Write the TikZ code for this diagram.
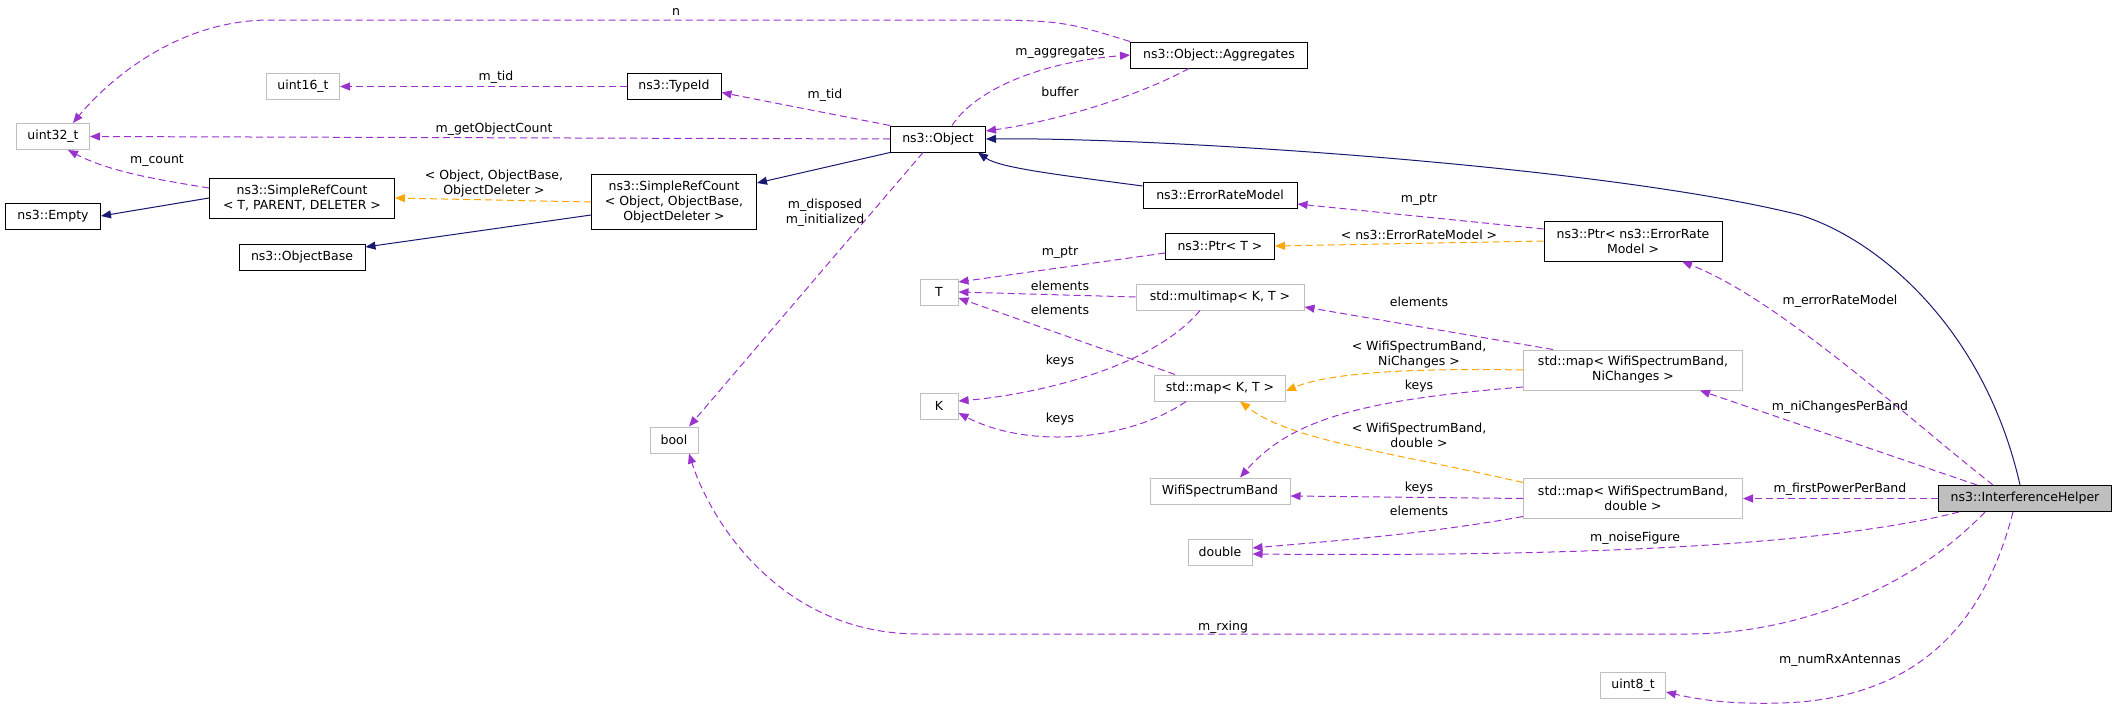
\documentclass[tikz,border=0pt]{standalone}
\usepackage{fontspec}
\setmainfont{DejaVu Sans}
\usetikzlibrary{arrows.meta}
\definecolor{dep}{HTML}{9A32CD}
\definecolor{tmpl}{HTML}{FFA500}
\definecolor{inh}{HTML}{191970}
\definecolor{gbox}{HTML}{BFBFBF}
\begin{document}
\begin{tikzpicture}[x=1pt,y=-1pt,
  every node/.style={font=\fontsize{12.5}{15}\selectfont, inner sep=0pt, align=center},
  cls/.style={draw=black, line width=1pt, fill=white, minimum height=26},
  ext/.style={draw=gbox, line width=1pt, fill=white, minimum height=26},
  tip/.style={-{Triangle[length=10pt,width=8pt]}},
  dep/.style={tip, draw=dep, line width=1pt, dash pattern=on 7pt off 4pt},
  tpl/.style={tip, draw=tmpl, line width=1pt, dash pattern=on 7pt off 4pt},
  inhe/.style={tip, draw=inh, line width=1pt},
  lbl/.style={fill=none}]
\useasboundingbox (0,0) rectangle (2115,704);
% nodes
\node[ext, minimum width=73] (u32) at (53,136.5) {uint32\_t};
\node[ext, minimum width=73] (u16) at (303,86.5) {uint16\_t};
\node[cls, minimum width=94] (tid) at (674,86.5) {ns3::TypeId};
\node[cls, minimum width=177] (agg) at (1219,55) {ns3::Object::Aggregates};
\node[cls, minimum width=95] (obj) at (938,139) {ns3::Object};
\node[cls, minimum width=95] (empty) at (53,216) {ns3::Empty};
\node[cls, minimum width=185, minimum height=40] (srcT) at (302,198) {ns3::SimpleRefCount\\{}< T, PARENT, DELETER >};
\node[cls, minimum width=165, minimum height=55] (srcO) at (674,202) {ns3::SimpleRefCount\\{}< Object, ObjectBase,\\ObjectDeleter >};
\node[cls, minimum width=126] (ob) at (302,257) {ns3::ObjectBase};
\node[cls, minimum width=154] (ern) at (1220,195) {ns3::ErrorRateModel};
\node[cls, minimum width=178, minimum height=40] (pe) at (1633,241) {ns3::Ptr< ns3::ErrorRate\\Model >};
\node[cls, minimum width=109] (ptrT) at (1220,246) {ns3::Ptr< T >};
\node[ext, minimum width=38] (T) at (939,292) {T};
\node[ext, minimum width=168] (mm) at (1220,297) {std::multimap< K, T >};
\node[ext, minimum width=38] (K) at (939,406) {K};
\node[ext, minimum width=131] (mkt) at (1220,388) {std::map< K, T >};
\node[ext, minimum width=48] (bool) at (674,440) {bool};
\node[ext, minimum width=219, minimum height=40] (mNi) at (1633,370) {std::map< WifiSpectrumBand,\\NiChanges >};
\node[ext, minimum width=140] (wsb) at (1220,491) {WifiSpectrumBand};
\node[ext, minimum width=219, minimum height=40] (mdb) at (1633,498.5) {std::map< WifiSpectrumBand,\\double >};
\node[ext, minimum width=64] (dbl) at (1220,552) {double};
\node[draw=black, line width=1pt, fill=gbox, minimum height=26, minimum width=173] (ih) at (2025,498.5) {ns3::InterferenceHelper};
\node[ext, minimum width=65] (u8) at (1633,685) {uint8\_t};
% inheritance
\draw[inhe] (srcT.west) -- (empty.east);
\draw[inhe] ([yshift=-13]srcO.west) -- ([yshift=10]ob.east);
\draw[inhe] (obj.south west) -- ([yshift=-9]srcO.north east);
\draw[inhe] ([yshift=9]ern.west) .. controls (1060,175) and (1000,168) .. ([xshift=40]obj.south);
\draw[inhe] ([xshift=-5]ih.north) .. controls (1985,330) and (1880,240) .. (1800,215) .. controls (1600,165) and (1150,137) .. (obj.east);
% templates
\draw[tpl] (srcO.west) -- (srcT.east);
\draw[tpl] (pe.west) -- (ptrT.east);
\draw[tpl] (mNi.west) .. controls (1420,368) and (1330,372) .. ([yshift=-3]mkt.east);
\draw[tpl] ([yshift=16]mdb.west) .. controls (1380,450) and (1290,440) .. ([xshift=20]mkt.south);
% dependencies
\draw[dep] (agg.north west) .. controls (1060,20) .. (950,20) -- (270,20) .. controls (170,20) and (100,90) .. ([xshift=20]u32.north);
\draw[dep] (tid.west) -- (u16.east);
\draw[dep] (obj.north west) -- ([yshift=-6]tid.east);
\draw[dep] (obj.west) -- (u32.east);
\draw[dep] ([xshift=14]obj.north) .. controls (975,90) and (1040,62) .. (agg.west);
\draw[dep] ([xshift=-30]agg.south) .. controls (1130,100) and (1050,122) .. ([yshift=8]obj.east);
\draw[dep] ([yshift=10]srcT.west) .. controls (160,180) and (110,172) .. ([xshift=15]u32.south);
\draw[dep] ([xshift=-15]obj.south) -- ([xshift=15]bool.north);
\draw[dep] ([yshift=12]pe.west) -- ([yshift=-9]ern.east);
\draw[dep] ([yshift=-7]ptrT.west) -- ([yshift=10]T.east);
\draw[dep] (mm.west) -- (T.east);
\draw[dep] ([xshift=-45]mkt.north) -- ([yshift=-6]T.east);
\draw[dep] ([xshift=-20]mm.south) .. controls (1150,370) and (1030,395) .. ([yshift=5]K.east);
\draw[dep] ([xshift=-34]mkt.south) .. controls (1130,440) and (1030,450) .. ([yshift=-7]K.east);
\draw[dep] ([xshift=-80]mNi.north) -- ([yshift=-10]mm.east);
\draw[dep] ([yshift=-17]mNi.west) .. controls (1360,400) and (1290,420) .. ([xshift=20]wsb.north);
\draw[dep] (mdb.west) -- ([yshift=-5]wsb.east);
\draw[dep] ([yshift=-18]mdb.west) .. controls (1420,535) and (1320,542) .. ([yshift=4]dbl.east);
\draw[dep] (ih.west) -- (mdb.east);
\draw[dep] ([xshift=-48]ih.north) -- ([xshift=67]mNi.south);
\draw[dep] ([xshift=-32]ih.north) .. controls (1910,420) and (1780,300) .. ([xshift=49]pe.south);
\draw[dep] ([xshift=-66]ih.south) .. controls (1800,552) and (1500,556) .. ([yshift=-2]dbl.east);
\draw[dep] ([xshift=-40]ih.south) .. controls (1900,600) and (1780,634) .. (1689,634) -- (919,634) .. controls (780,634) and (710,520) .. ([xshift=15]bool.south);
\draw[dep] ([xshift=-12]ih.south) .. controls (1990,600) and (1940,690) .. (1800,702) .. controls (1740,706) and (1700,700) .. ([yshift=-7]u8.east);
% labels
\node[lbl] (l1) at (676,12) {n};
\node[lbl] (l2) at (496,77) {m\_tid};
\node[lbl] (l3) at (825,95) {m\_tid};
\node[lbl] (l4) at (494,129) {m\_getObjectCount};
\node[lbl] (l5) at (1060,53) {m\_aggregates};
\node[lbl] (l6) at (1060,92) {buffer};
\node[lbl] (l7) at (157,161) {m\_count};
\node[lbl] (l8) at (494,184) {< Object, ObjectBase,\\ObjectDeleter >};
\node[lbl] (l9) at (825,213) {m\_disposed\\m\_initialized};
\node[lbl] (l10) at (1419,200) {m\_ptr};
\node[lbl] (l11) at (1419,235) {< ns3::ErrorRateModel >};
\node[lbl] (l12) at (1060,253) {m\_ptr};
\node[lbl] (l13) at (1060,286) {elements};
\node[lbl] (l14) at (1060,310) {elements};
\node[lbl] (l15) at (1060,361) {keys};
\node[lbl] (l16) at (1060,419) {keys};
\node[lbl] (l17) at (1419,302) {elements};
\node[lbl] (l18) at (1419,355) {< WifiSpectrumBand,\\NiChanges >};
\node[lbl] (l19) at (1419,386) {keys};
\node[lbl] (l20) at (1419,435) {< WifiSpectrumBand,\\double >};
\node[lbl] (l21) at (1419,488) {keys};
\node[lbl] (l22) at (1419,511) {elements};
\node[lbl] (l23) at (1840,489) {m\_firstPowerPerBand};
\node[lbl] (l24) at (1840,407) {m\_niChangesPerBand};
\node[lbl] (l25) at (1840,301) {m\_errorRateModel};
\node[lbl] (l26) at (1635,538) {m\_noiseFigure};
\node[lbl] (l27) at (1223,627) {m\_rxing};
\node[lbl] (l28) at (1840,660) {m\_numRxAntennas};
\end{tikzpicture}
\end{document}
